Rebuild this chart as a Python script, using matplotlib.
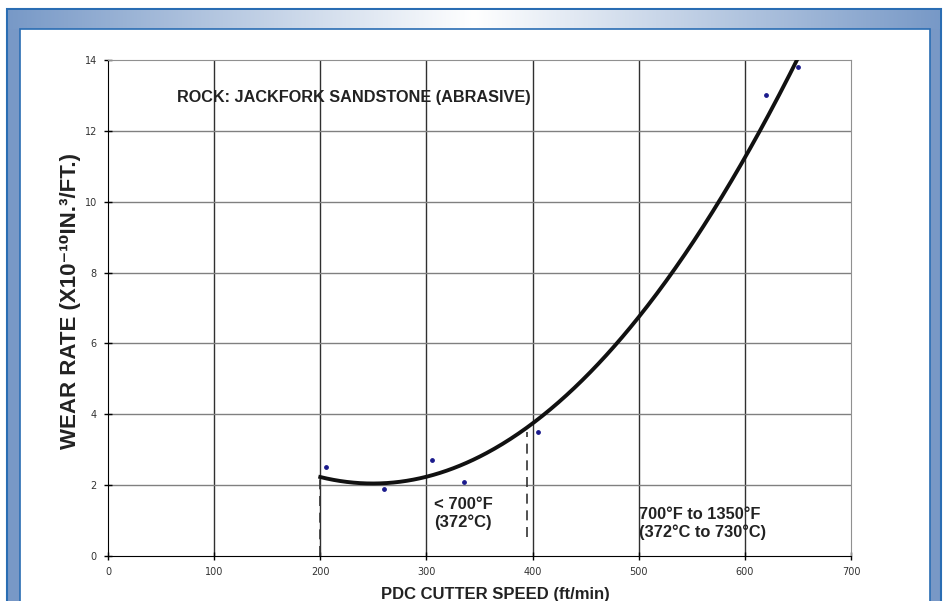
import numpy as np
import matplotlib.pyplot as plt
from matplotlib.patches import Rectangle

# measured wear data (ft/min, x10^-10 in^3/ft)
speed = [205, 260, 305, 335, 405, 620, 650]
wear = [2.5, 1.9, 2.7, 2.1, 3.5, 13.0, 13.8]

# trendline
trend_x = [200, 250, 300, 350, 400, 450, 500, 550, 600, 650]
trend_y = [2.23, 2.05, 2.23, 2.8, 3.75, 5.05, 6.75, 8.8, 11.25, 14.05]

x_ticks = [0, 100, 200, 300, 400, 500, 600, 700]
y_ticks = [0, 2, 4, 6, 8, 10, 12, 14]

# dashed markers for temperature zones
zone_x = [200, 395]
zone_y0 = [0.0, 0.55]
zone_y1 = [2.23, 3.5]

W, H = 944, 601
fig = plt.figure(figsize=(W / 100, H / 100), dpi=100)

# frame around the chart
bg = fig.add_axes([0, 0, 1, 1], zorder=-1)
bg.set_xlim(0, W)
bg.set_ylim(H, 0)
bg.axis('off')
edge = np.array([0.47, 0.60, 0.78])
grad = np.abs(np.linspace(-1, 1, 400))[None, :, None]
img = 1 - (1 - edge) * grad
bg.add_patch(Rectangle((7, 9), 934, 600, facecolor='#7898c6', edgecolor='#2a6db3', lw=1.5))
bg.imshow(img, extent=(8, 940, 29, 10), aspect='auto', zorder=2)
bg.add_patch(Rectangle((20, 29), 910, 580, facecolor='white', edgecolor='#2a6db3', lw=1.2, zorder=3))

ax = fig.add_axes([108 / W, (H - 556) / H, (851 - 108) / W, (556 - 60) / H])
ax.set_xlim(0, 700)
ax.set_ylim(0, 14)
ax.set_xticks(x_ticks)
ax.set_yticks(y_ticks)
ax.tick_params(direction='inout', length=6, width=1, labelsize=7, labelcolor='#333333', pad=5)
for v in x_ticks[1:-1]:
    ax.axvline(v, color='#303030', lw=1, zorder=1)
for v in y_ticks[1:-1]:
    ax.axhline(v, color='#808080', lw=1, zorder=1)
ax.spines['top'].set_color('#909090')
ax.spines['right'].set_color('#909090')

# second-order trendline
coef = np.polyfit(trend_x, trend_y, 2)
xs = np.linspace(200, 700, 400)
ys = np.polyval(coef, xs)
ax.plot(xs, ys, color='#111111', lw=2.8, zorder=3)
ax.scatter(speed, wear, s=6, color='#1a1a8c', zorder=4)

for x, a, b in zip(zone_x, zone_y0, zone_y1):
    ax.plot([x, x], [a, b], color='#333333', lw=1.2, ls=(0, (6, 4)), zorder=2)

ax.text(65, 12.93, 'ROCK: JACKFORK SANDSTONE (ABRASIVE)', fontsize=11.7, fontweight='bold',
        family='Liberation Sans', color='#222222', va='center')
ax.text(307, 1.2, '< 700°F\n(372°C)', fontsize=12, fontweight='bold',
        family='Liberation Sans', color='#222222', va='center', linespacing=1.15)
ax.text(500, 0.92, '700°F to 1350°F\n(372°C to 730°C)', fontsize=11.8, fontweight='bold',
        family='Liberation Sans', color='#222222', va='center', linespacing=1.15)

fig.text(71 / W, 1 - 301 / H, 'WEAR RATE (X10⁻¹⁰IN.³/FT.)', rotation=90, fontsize=16,
         fontweight='bold', family=['Liberation Sans', 'DejaVu Sans'], color='#222222',
         ha='center', va='center')
fig.text(495 / W, 1 - 594 / H, 'PDC CUTTER SPEED (ft/min)', fontsize=12,
         fontweight='bold', family='Liberation Sans', color='#222222', ha='center', va='center')

fig.savefig('out.png', dpi=100)
